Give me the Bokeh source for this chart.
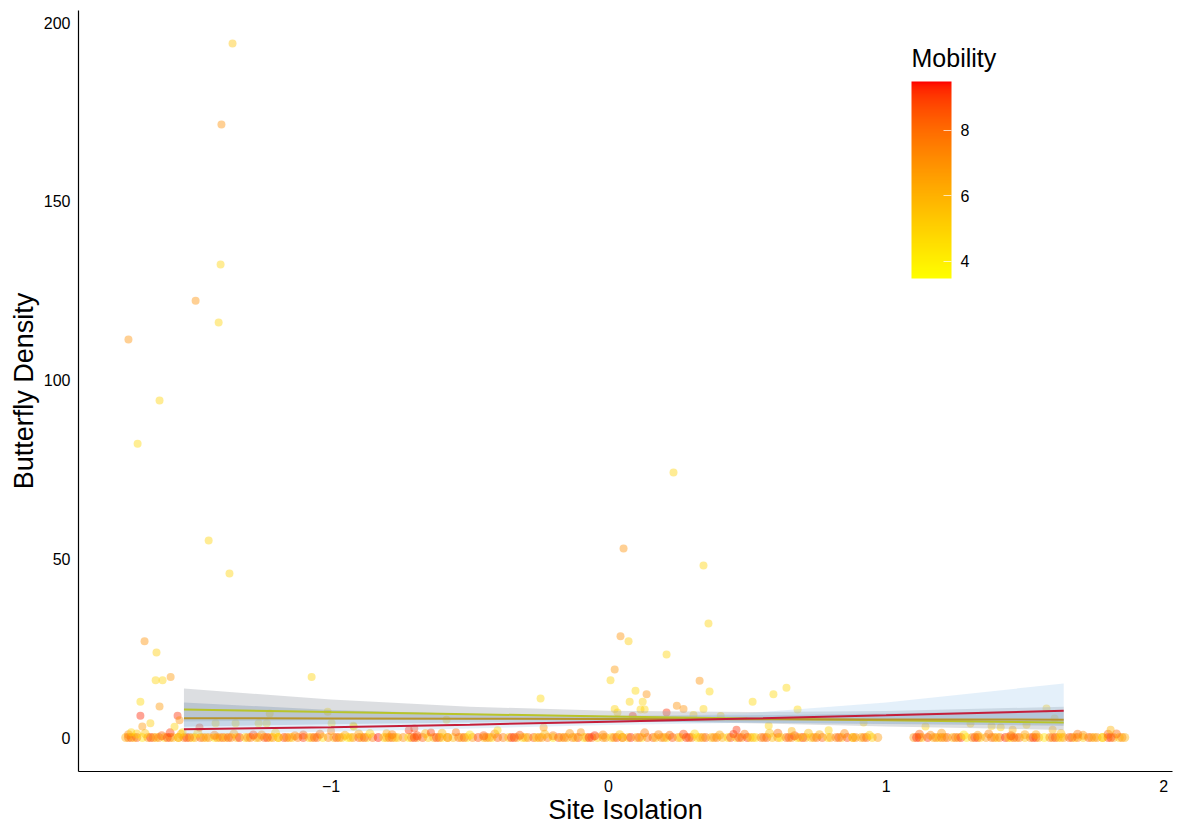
import numpy as np
from bokeh.plotting import figure
from bokeh.models import (ColumnDataSource, LinearColorMapper, ColorBar, FixedTicker, Range1d, Label)
from bokeh.embed import file_html
from bokeh.resources import INLINE

# ---------------- data ----------------
# points sitting on zero density (site isolation, mobility)
zero_x = [
    -1.74, -1.73, -1.71, -1.70, -1.68, -1.66, -1.65, -1.63, -1.62, -1.60,
    -1.58, -1.57, -1.55, -1.53, -1.52, -1.50, -1.49, -1.47, -1.45, -1.44,
    -1.42, -1.41, -1.39, -1.38, -1.36, -1.34, -1.33, -1.31, -1.29, -1.27,
    -1.26, -1.24, -1.22, -1.21, -1.19, -1.17, -1.15, -1.14, -1.12, -1.10,
    -1.08, -1.07, -1.05, -1.03, -1.01, -0.99, -0.98, -0.96, -0.94, -0.92,
    -0.90, -0.89, -0.87, -0.85, -0.83, -0.81, -0.80, -0.78, -0.76, -0.74,
    -0.72, -0.71, -0.69, -0.67, -0.65, -0.63, -0.62, -0.60, -0.58, -0.56,
    -0.54, -0.53, -0.51, -0.49, -0.47, -0.45, -0.44, -0.42, -0.40, -0.38,
    -0.36, -0.35, -0.33, -0.31, -0.29, -0.27, -0.26, -0.24, -0.22, -0.20,
    -0.18, -0.17, -0.15, -0.13, -0.11, -0.09, -0.08, -0.06, -0.04, -0.02,
    -0.01, 0.01, 0.03, 0.05, 0.07, 0.08, 0.10, 0.12, 0.14, 0.16,
    0.17, 0.19, 0.21, 0.23, 0.25, 0.26, 0.28, 0.30, 0.32, 0.34,
    0.35, 0.37, 0.39, 0.41, 0.43, 0.44, 0.46, 0.48, 0.50, 0.52,
    0.53, 0.55, 0.57, 0.59, 0.61, 0.62, 0.64, 0.66, 0.68, 0.70,
    0.71, 0.73, 0.75, 0.77, 0.79, 0.80, 0.82, 0.84, 0.86, 0.88,
    0.89, 0.91, 0.93, 0.95, 0.97, 1.10, 1.12, 1.13, 1.15, 1.17,
    1.19, 1.20, 1.22, 1.24, 1.26, 1.27, 1.29, 1.31, 1.33, 1.34,
    1.36, 1.38, 1.40, 1.41, 1.43, 1.45, 1.47, 1.48, 1.50, 1.52,
    1.54, 1.55, 1.57, 1.59, 1.61, 1.62, 1.64, 1.66, 1.68, 1.69,
    1.71, 1.73, 1.75, 1.76, 1.78, 1.80, 1.82, 1.84, 1.85, 1.86,
    -1.72, -1.64, -1.59, -1.51, -1.46, -1.37, -1.30, -1.23, -1.16, -1.06,
    -0.97, -0.88, -0.79, -0.70, -0.61, -0.52, -0.43, -0.34, -0.25, -0.16,
    -0.07, 0.02, 0.11, 0.20, 0.29, 0.38, 0.47, 0.56, 0.65, 0.74,
    0.83, 0.92, 1.11, 1.18, 1.25, 1.32, 1.39, 1.46, 1.53, 1.60,
    1.67, 1.74, 1.81, -1.40, -1.19, -0.93, -0.58, -0.12, 0.33, 0.69,
    1.44, 1.63, -1.55, -0.77, 0.05, 0.51, 1.21, 1.78, -0.30, 0.88,
]
zero_mob = [
    6.2, 7.9, 5.1, 8.6, 4.4, 6.8, 9.2, 5.6, 7.3, 4.9,
    8.1, 6.0, 5.3, 7.6, 9.0, 4.7, 6.5, 8.4, 5.8, 7.1,
    4.2, 6.9, 8.8, 5.4, 7.4, 6.1, 9.3, 4.8, 7.8, 5.9,
    6.6, 8.3, 5.0, 7.2, 4.5, 8.9, 6.3, 5.7, 7.7, 9.1,
    5.2, 6.7, 8.0, 4.6, 7.5, 6.0, 8.7, 5.5, 4.1, 7.0,
    8.5, 6.4, 5.1, 7.9, 9.4, 4.9, 6.2, 8.2, 5.6, 7.3,
    4.3, 7.6, 6.8, 8.6, 5.3, 6.1, 9.0, 4.7, 7.4, 5.8,
    8.0, 6.5, 4.4, 7.1, 8.8, 5.9, 6.9, 4.6, 8.3, 7.7,
    5.4, 9.2, 6.3, 4.8, 7.2, 8.5, 5.0, 6.6, 7.9, 4.2,
    8.9, 6.0, 5.7, 7.5, 9.1, 4.5, 6.4, 8.1, 5.2, 7.0,
    6.8, 4.9, 8.6, 7.3, 5.5, 9.3, 6.2, 4.4, 7.8, 8.4,
    5.9, 7.1, 4.7, 8.7, 6.5, 5.1, 9.0, 7.6, 4.3, 6.9,
    8.2, 5.6, 7.4, 6.1, 4.8, 8.8, 5.3, 7.0, 9.2, 6.4,
    4.6, 7.7, 8.3, 5.8, 6.7, 4.1, 8.0, 7.2, 5.0, 9.4,
    6.3, 5.4, 7.9, 8.5, 4.9, 6.6, 7.3, 5.7, 8.9, 4.5,
    7.5, 6.0, 8.1, 5.2, 6.8, 7.0, 8.6, 5.5, 9.1, 6.2,
    4.7, 7.8, 8.4, 5.9, 6.5, 9.2, 4.4, 7.1, 8.7, 5.3,
    6.9, 8.0, 5.0, 7.6, 9.3, 4.8, 6.1, 8.2, 5.6, 7.4,
    8.8, 6.4, 4.3, 7.2, 9.0, 5.8, 6.7, 8.3, 4.6, 7.9,
    5.1, 8.5, 6.2, 7.0, 4.9, 8.9, 6.6, 5.4, 7.7, 6.0,
    8.1, 7.4, 8.8, 7.9, 6.9, 8.5, 7.2, 9.0, 7.7, 8.3,
    7.0, 8.6, 7.5, 9.1, 7.8, 8.2, 6.8, 8.9, 7.3, 8.0,
    9.2, 7.6, 8.4, 7.1, 8.7, 7.4, 9.0, 7.9, 8.3, 7.2,
    8.6, 7.7, 9.3, 7.5, 8.1, 8.8, 7.3, 8.5, 9.1, 7.8,
    8.4, 7.0, 8.9, 6.5, 6.0, 5.5, 6.2, 5.8, 6.4, 5.9,
    6.1, 5.6, 6.3, 5.7, 6.6, 5.2, 6.8, 5.4, 6.0, 6.7,
]

# points just above zero (site isolation, density, mobility)
near_x = [
    -1.73, -1.67, -1.61, -1.54, -1.48, -1.42, -1.35, -1.28, -1.20, -1.13,
    -1.04, -0.95, -0.86, -0.78, -0.69, -0.60, -0.50, -0.41, -0.32, -0.23,
    -0.14, -0.05, 0.04, 0.13, 0.22, 0.31, 0.40, 0.49, 0.58, 0.67,
    0.76, 0.85, 0.94, 1.12, 1.20, 1.28, 1.37, 1.45, 1.54, 1.63,
    1.71, 1.80, -1.58, -1.25, -0.90, -0.45, 0.18, 0.61, 1.33, 1.69,
    -1.70, -1.10, -0.66, -0.20, 0.27, 0.72, 1.16, 1.50, 1.83, -0.02,
]
near_y = [
    0.8, 1.1, 0.5, 0.9, 1.2, 0.6, 1.0, 0.7, 1.3, 0.5,
    0.9, 0.6, 1.1, 0.8, 0.5, 1.2, 0.7, 1.0, 0.6, 0.9,
    1.1, 0.5, 0.8, 1.3, 0.6, 1.0, 0.7, 0.9, 1.2, 0.5,
    0.8, 1.1, 0.6, 0.9, 1.2, 0.7, 1.0, 0.5, 0.8, 1.1,
    0.6, 0.9, 1.3, 0.7, 1.0, 0.5, 0.8, 1.2, 0.6, 0.9,
    1.0, 0.7, 1.1, 0.5, 0.9, 1.2, 0.6, 0.8, 1.0, 0.7,
]
near_mob = [
    7.2, 5.5, 8.4, 6.1, 4.9, 7.8, 6.6, 9.0, 5.3, 7.4,
    8.1, 6.3, 5.0, 7.7, 8.8, 6.0, 4.6, 7.1, 8.5, 5.8,
    6.9, 9.2, 5.4, 7.6, 8.0, 4.8, 6.4, 7.9, 5.6, 8.7,
    6.2, 7.3, 5.1, 8.3, 6.8, 4.5, 7.5, 8.9, 6.5, 5.9,
    7.0, 8.2, 9.1, 7.0, 6.4, 8.6, 7.3, 8.0, 6.7, 7.8,
    5.2, 8.4, 6.1, 7.6, 8.8, 5.7, 7.2, 6.6, 8.1, 7.4,
]

# points clearly above zero: (site isolation, butterfly density, mobility)
pos_x = [
    -1.355, -1.395, -1.398, -1.488, -1.405, -1.730, -1.618, -1.697, -1.441, -1.366,
    -1.672, -1.629, -1.632, -1.607, -1.578, -1.070, -1.687, -1.618, -1.687, -1.553,
    -1.680, -1.651, -1.546, -1.564, -1.720, -1.535, -1.416, -1.344, -1.261, -1.232,
    -1.221, -1.012, -0.998, -1.474, -0.918, -0.584, -0.245, -0.234, 0.234, 0.054,
    0.342, 0.360, 0.043, 0.072, 0.209, 0.022, 0.007, 0.328, 0.097, 0.137,
    0.364, 0.076, 0.123, 0.519, 0.594, 0.641, 0.681, 0.246, 0.022, 0.032,
    0.115, 0.130, 0.209, 0.087, 0.270, 0.342, 0.306, 0.404, 0.461, 0.577,
    0.793, 0.919, 1.142, 1.304, 1.380, 1.413, 1.456, 1.506, 1.578, 1.607,
    1.600, 1.809, -0.800, -0.550, -0.400, -0.100, 0.660, -1.000, -0.700, 0.450,
    -0.920, -0.720, -0.640,
]
pos_y = [
    194.1, 171.5, 132.3, 122.2, 116.1, 111.3, 94.3, 82.2, 55.1, 45.9,
    26.9, 23.8, 16.0, 16.0, 16.9, 16.9, 10.0, 8.7, 6.1, 6.1,
    3.1, 4.0, 4.8, 3.0, 1.5, 1.5, 4.0, 4.0, 4.0, 4.0,
    6.7, 7.2, 4.0, 2.8, 3.0, 5.0, 10.9, 2.8, 74.1, 52.9,
    48.1, 31.9, 28.3, 26.9, 23.2, 19.0, 16.0, 15.9, 13.1, 12.1,
    12.9, 10.0, 10.0, 10.0, 12.1, 13.9, 7.8, 8.9, 8.0, 7.0,
    7.8, 7.8, 7.0, 6.0, 8.0, 8.0, 6.3, 6.0, 2.2, 3.3,
    2.0, 4.2, 3.1, 3.9, 3.2, 2.9, 2.2, 3.6, 8.1, 5.3,
    2.2, 2.2, 1.2, 1.5, 2.0, 1.5, 1.8, 1.8, 2.5, 1.0,
    3.3, 2.0, 1.4,
]
pos_mob = [
    5.5, 7.0, 5.0, 7.0, 5.0, 7.0, 5.0, 4.8, 5.0, 5.0,
    7.0, 5.2, 5.0, 5.0, 6.8, 5.0, 4.8, 6.8, 9.3, 9.2,
    6.8, 5.2, 7.0, 5.0, 5.0, 5.0, 4.8, 4.8, 4.6, 4.6,
    4.5, 4.5, 4.6, 9.0, 5.0, 4.5, 4.8, 6.8, 5.0, 7.0,
    5.0, 5.0, 7.0, 5.2, 5.0, 6.8, 5.0, 7.0, 4.8, 7.0,
    4.8, 5.0, 5.0, 4.8, 4.8, 4.8, 4.8, 7.0, 5.0, 5.0,
    5.0, 5.0, 9.2, 9.3, 7.0, 5.0, 5.0, 5.0, 9.2, 5.0,
    5.0, 4.8, 5.0, 5.0, 5.0, 5.0, 6.0, 5.0, 5.2, 5.2,
    6.0, 6.0, 6.5, 8.0, 5.0, 7.0, 6.0, 7.5, 9.0, 9.0,
    5.0, 9.2, 9.0,
]

# fitted curves with confidence ribbons (three mobility levels)
fit_x = [-1.53, -1.0, -0.5, 0.0, 0.5, 1.0, 1.64]
low_fit = [7.8, 7.1, 6.5, 5.9, 5.3, 4.8, 4.2]
low_lo = [4.5, 4.9, 5.0, 4.7, 4.0, 3.1, 2.1]
low_hi = [13.7, 10.6, 8.6, 7.5, 7.1, 7.4, 8.6]
mid_fit = [5.4, 5.33, 5.26, 5.18, 5.1, 5.05, 5.0]
mid_lo = [3.0, 3.7, 4.2, 4.4, 4.2, 3.8, 3.3]
mid_hi = [9.8, 7.7, 6.6, 6.1, 6.2, 6.7, 7.6]
high_fit = [2.3, 2.9, 3.6, 4.4, 5.3, 6.2, 7.5]
high_lo = [0.9, 1.6, 2.5, 3.5, 4.1, 3.9, 3.7]
high_hi = [6.0, 5.3, 5.2, 5.5, 6.8, 9.8, 15.1]

x_ticks = [-1, 0, 1, 2]
y_ticks = [0, 50, 100, 150, 200]
mob_ticks = [4, 6, 8]
mob_low, mob_high = 3.48, 9.49

# ---------------- colour palette (yellow -> red, Lab interpolation) ----------------
def _lin(c):
    c = c / 255.0
    return np.where(c <= 0.04045, c / 12.92, ((c + 0.055) / 1.055) ** 2.4)

def _unlin(c):
    c = np.where(c <= 0.0031308, 12.92 * c, 1.055 * np.clip(c, 0, None) ** (1 / 2.4) - 0.055)
    return np.clip(np.round(c * 255), 0, 255).astype(int)

M = np.array([[0.4124, 0.3576, 0.1805], [0.2126, 0.7152, 0.0722], [0.0193, 0.1192, 0.9505]])
Minv = np.linalg.inv(M)
WP = np.array([0.95047, 1.0, 1.08883])

def to_lab(rgb):
    xyz = M @ _lin(np.array(rgb, float)) / WP
    f = np.where(xyz > 0.008856, np.cbrt(xyz), 7.787 * xyz + 16 / 116)
    return np.array([116 * f[1] - 16, 500 * (f[0] - f[1]), 200 * (f[1] - f[2])])

def from_lab(lab):
    fy = (lab[0] + 16) / 116
    fx = fy + lab[1] / 500
    fz = fy - lab[2] / 200
    f = np.array([fx, fy, fz])
    xyz = np.where(f ** 3 > 0.008856, f ** 3, (f - 16 / 116) / 7.787) * WP
    return _unlin(Minv @ xyz)

lab_a, lab_b = to_lab([255, 255, 0]), to_lab([255, 0, 0])
palette = []
for t in np.linspace(0, 1, 256):
    r, g, b = from_lab(lab_a + (lab_b - lab_a) * t)
    palette.append("#%02x%02x%02x" % (r, g, b))

mapper = LinearColorMapper(palette=palette, low=mob_low, high=mob_high)

# ---------------- figure ----------------
FONT = "Liberation Sans"
X0, X1 = -1.91, 2.032
Y0, Y1 = -9.51, 203.36
FW, FH = 1094, 761
p = figure(frame_width=FW, frame_height=FH, output_backend="svg", toolbar_location=None,
           x_range=Range1d(X0, X1), y_range=Range1d(Y0, Y1),
           min_border_left=78, min_border_right=5, min_border_top=10, min_border_bottom=56,
           background_fill_color="white", border_fill_color="white")
p.outline_line_color = None
p.grid.visible = False

for xs, ys, ms, sz in ((zero_x, [0.0] * len(zero_x), zero_mob, 9), (near_x, near_y, near_mob, 9),
                       (pos_x, pos_y, pos_mob, 8)):
    src = ColumnDataSource(dict(x=xs, y=ys, m=ms))
    p.scatter("x", "y", source=src, size=sz, fill_color={"field": "m", "transform": mapper},
              fill_alpha=0.42, line_color=None)

p.varea(x=fit_x, y1=low_lo, y2=low_hi, fill_color="#a8adb5", fill_alpha=0.4)
p.varea(x=fit_x, y1=mid_lo, y2=mid_hi, fill_color="#6f8aa8", fill_alpha=0.3)
p.varea(x=fit_x, y1=high_lo, y2=high_hi, fill_color="#a7cdee", fill_alpha=0.3)
p.line(fit_x, low_fit, line_color="#b8c42a", line_width=2)
p.line(fit_x, mid_fit, line_color="#b8952e", line_width=2)
p.line(fit_x, high_fit, line_color="#c41e3a", line_width=2)

for ax, ticks in ((p.xaxis[0], x_ticks), (p.yaxis[0], y_ticks)):
    ax.ticker = FixedTicker(ticks=ticks)
    ax.major_tick_line_color = None
    ax.minor_tick_line_color = None
    ax.axis_line_color = "black"
    ax.axis_line_width = 1.2
    ax.major_label_text_font = FONT
    ax.major_label_text_font_size = "16px"
    ax.major_label_text_color = "black"
    ax.major_label_standoff = 2
    ax.axis_label_text_font = FONT
    ax.axis_label_text_font_size = "27px"
    ax.axis_label_text_font_style = "normal"
    ax.axis_label_text_color = "black"
    ax.axis_label_standoff = 2
p.xaxis.axis_label_standoff = 0
p.xaxis.major_label_overrides = {-1: "\u22121"}
p.xaxis.axis_label = "Site Isolation"
p.yaxis.axis_label = "Butterfly Density"

cb = ColorBar(color_mapper=mapper, ticker=FixedTicker(ticks=mob_ticks), orientation="vertical",
              width=40, height=197, padding=0, location=(833, 493),
              major_label_text_font=FONT, major_label_text_font_size="16px",
              major_label_text_color="black", label_standoff=9,
              major_tick_line_color="white", major_tick_line_alpha=0.7,
              major_tick_in=8, major_tick_out=0, minor_tick_line_color=None,
              bar_line_color=None, border_line_color=None, background_fill_color=None)
p.add_layout(cb)

# legend title placed just above the colour bar
title_x = X0 + 833 * (X1 - X0) / FW
title_y = Y1 - 47 * (Y1 - Y0) / FH
p.add_layout(Label(x=title_x, y=title_y, text="Mobility", text_font=FONT,
                   text_font_size="25px", text_color="black", text_baseline="alphabetic",
                   text_align="left"))

open("out.html", "w").write(file_html(p, INLINE))
